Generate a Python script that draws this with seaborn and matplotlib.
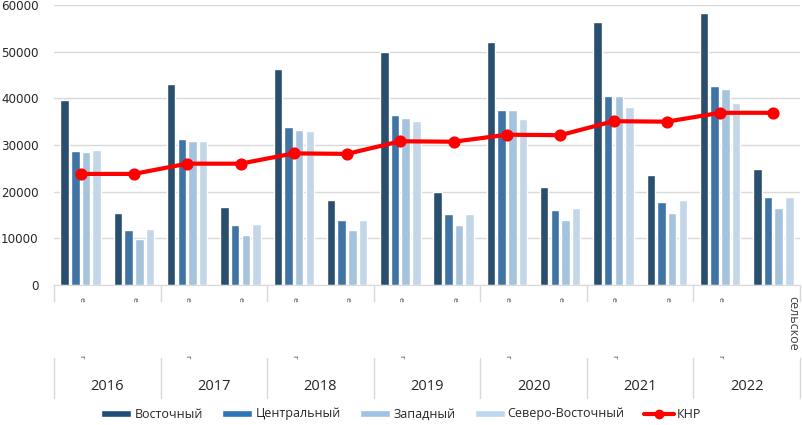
import pandas as pd
import numpy as np
import matplotlib.pyplot as plt
from matplotlib.patches import Patch
from matplotlib.lines import Line2D
import seaborn as sns

# данные
years = ['2016', '2017', '2018', '2019', '2020', '2021', '2022']
kinds = ['городское', 'сельское']
regions = ['Восточный', 'Центральный', 'Западный', 'Северо-Восточный']

vostochny = [39700, 15400, 43000, 16700, 46300, 18200, 50000, 19900, 52000, 21100, 56400, 23500, 58300, 24900]
centralny = [28700, 11700, 31200, 12800, 33800, 14000, 36500, 15200, 37400, 16100, 40500, 17800, 42700, 18900]
zapadny = [28600, 9900, 30900, 10700, 33300, 11800, 35800, 12900, 37400, 14000, 40400, 15400, 42000, 16500]
sev_vost = [28900, 12100, 30900, 13000, 33000, 14000, 35100, 15200, 35500, 16500, 38100, 18200, 38900, 18800]
knr = [23800, 23800, 26000, 26000, 28200, 28100, 30800, 30700, 32200, 32100, 35100, 35000, 36900, 36900]

colors = ['#1f4e79', '#2e75b6', '#9dc3e6', '#bdd7ee']

cats = [y + '_' + k for y in years for k in kinds]
rows = []
for reg, vals in zip(regions, [vostochny, centralny, zapadny, sev_vost]):
    for c, v in zip(cats, vals):
        rows.append({'cat': c, 'region': reg, 'val': v})
df = pd.DataFrame(rows)

W, H = 803, 425
sns.set_style('white')
fig = plt.figure(figsize=(W/100, H/100), dpi=100)
x0, x1, ytop, ybot = 54, 800, 5, 285
ax = fig.add_axes([x0/W, 1-ybot/H, (x1-x0)/W, (ybot-ytop)/H])

sns.barplot(data=df, x='cat', y='val', hue='region', order=cats, hue_order=regions,
            palette=colors, width=0.8, gap=0.2, ax=ax, legend=False)
sns.pointplot(x=cats, y=knr, color='#ff0000', markers='o', markersize=6.5,
              linewidth=3, ax=ax)

ax.set_ylim(0, 60000)
ax.set_xlim(-0.5, len(cats)-0.5)
ax.set_yticks(np.arange(0, 60001, 10000))
ax.tick_params(axis='y', labelsize=8.6, colors='#262626', length=0, pad=11)
ax.yaxis.grid(True, color='#d9d9d9', linewidth=1)
ax.set_axisbelow(True)
for s in ['top', 'right', 'left']:
    ax.spines[s].set_visible(False)
ax.spines['bottom'].set_color('#d9d9d9')
ax.set_xlabel('')
ax.set_ylabel('')
ax.set_xticks(range(len(cats)))
ax.set_xticklabels([])
ax.tick_params(axis='x', length=0)

# подписи оси категорий (в пикселях фигуры)
step = (x1 - x0) / len(cats)
def fx(px):
    return px / W
def fy(py):
    return 1 - py / H

for i in range(0, len(cats)+1, 2):
    xp = x0 + i*step
    fig.add_artist(Line2D([fx(xp), fx(xp)], [fy(285), fy(301)], color='#d9d9d9', lw=1))
    fig.add_artist(Line2D([fx(xp), fx(xp)], [fy(358), fy(398)], color='#d9d9d9', lw=1))
for i, c in enumerate(cats):
    xc = x0 + (i+0.5)*step
    if i == len(cats)-1:
        fig.text(fx(793), fy(296), 'сельское', rotation=270, ha='center', va='top',
                 fontsize=9, color='#404040', family='Open Sans')
    else:
        fig.text(fx(xc), fy(297), 'е', rotation=270, ha='center', va='top',
                 fontsize=6, color='#404040', family='Open Sans')
        if i % 2 == 0:
            fig.text(fx(xc), fy(357), 'г', rotation=270, ha='center', va='center',
                     fontsize=6, color='#404040', family='Open Sans')
for j, y in enumerate(years):
    fig.text(fx(x0 + (2*j+1)*step), fy(387), y, ha='center', va='center',
             fontsize=10.5, color='#262626', family='Open Sans')

handles = [Patch(facecolor=c, label=r) for c, r in zip(colors, regions)]
handles.append(Line2D([0], [0], color='#ff0000', lw=3, marker='o', markersize=6, label='КНР'))
fig.legend(handles=handles, loc='center', bbox_to_anchor=(0.5, fy(414)), ncol=5,
           frameon=False, prop={'family': 'Open Sans', 'size': 9}, handlelength=2.4,
           handleheight=0.5, handletextpad=0.25, columnspacing=1.55, labelcolor='#262626')

fig.savefig('out.png', dpi=100)
